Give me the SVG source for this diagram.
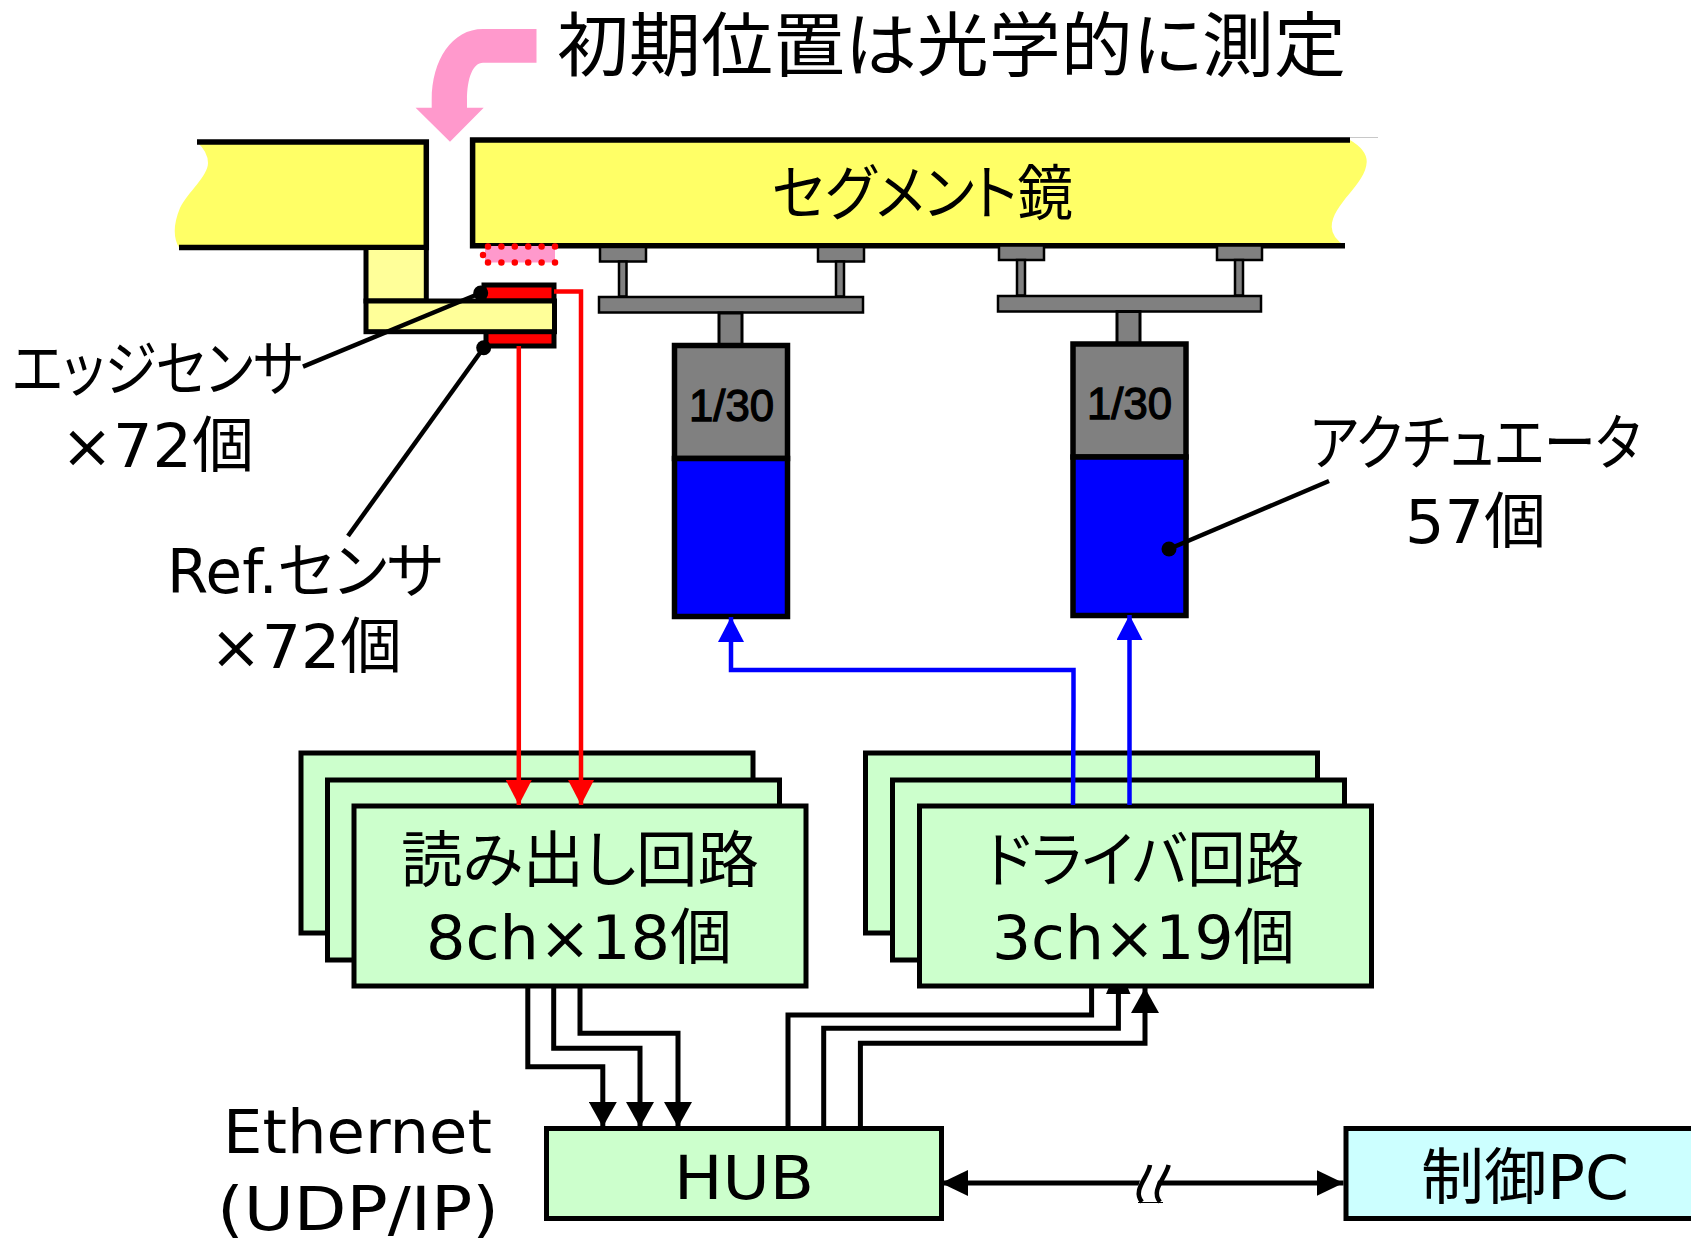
<svg xmlns="http://www.w3.org/2000/svg" width="1691" height="1241" viewBox="0 0 1691 1241">
<defs>
<style>
text{font-family:"DejaVu Sans","Noto Sans CJK JP",sans-serif;font-size:61px;fill:#000;font-feature-settings:"palt";}
.b{fill:#ccffcc;stroke:#000;stroke-width:5}
.c{fill:#ccffff;stroke:#000;stroke-width:5}
.y{fill:#ffff66;stroke:none}
.ly{fill:#ffff99;stroke:#000;stroke-width:5}
.g{fill:#808080;stroke:#000;stroke-width:2.5}
.g2{fill:#808080;stroke:#000;stroke-width:3}
.gb{fill:#808080;stroke:#000;stroke-width:5.5}
.bl{fill:#0000ff;stroke:#000;stroke-width:5.5}
.k{fill:none;stroke:#000;stroke-width:5}
.r{fill:none;stroke:#ff0000;stroke-width:4.5}
.u{fill:none;stroke:#0000ff;stroke-width:4.5}
.m{font-family:"Liberation Sans",sans-serif;font-size:44px;stroke:#000;stroke-width:1.3}
</style>
<marker id="ak" markerUnits="userSpaceOnUse" markerWidth="26" markerHeight="28" refX="25" refY="14" orient="auto"><path d="M0 0L25 14L0 28Z" fill="#000"/></marker>
<marker id="ar" markerUnits="userSpaceOnUse" markerWidth="26" markerHeight="26" refX="25" refY="13" orient="auto"><path d="M0 0L25 13L0 26Z" fill="#f00"/></marker>
<marker id="au" markerUnits="userSpaceOnUse" markerWidth="26" markerHeight="26" refX="25" refY="13" orient="auto"><path d="M0 0L25 13L0 26Z" fill="#00f"/></marker>
<marker id="ah" markerUnits="userSpaceOnUse" markerWidth="28" markerHeight="26" refX="27" refY="13" orient="auto-start-reverse"><path d="M0 0L27 13L0 26Z" fill="#000"/></marker>
</defs>

<g id="title">
<text x="557" y="71" style="font-size:70px" textLength="789" lengthAdjust="spacingAndGlyphs">初期位置は光学的に測定</text>
<path d="M536.5 29H483C452 29 431.7 60 431.7 100V107.7H415.6L450 141.7L483.7 107.7H467V100C467 78 473 62.7 483 62.7H536.5Z" fill="#ff99cc"/>
</g>

<g id="mirror-left">
<path class="y" d="M197 142H426V247.5H179Q170 232 180 208C188 192 208 176 208 163Q208 152 197 142Z"/>
<path class="k" d="M197 142H426.3V247.5H179" style="stroke-width:5.5"/>
</g>
<g id="mirror-right">
<path class="y" d="M472.6 140H1350Q1367 150 1366.7 162C1366 184 1332 204 1331.7 227Q1332 238 1345 245.7H472.6Z"/>
<path class="k" d="M1350 140H472.6V245.7H1345" style="stroke-width:5.5"/>
<path d="M1350 137.500H1378" stroke="#c8c8c8" stroke-width="1" fill="none"/>
<text x="772" y="215" textLength="301" lengthAdjust="spacingAndGlyphs" style="font-size:60px">セグメント鏡</text>
</g>

<g id="edge-sensor">
<rect class="ly" x="366" y="247.500" width="60.300" height="53.500"/>
<rect x="484" y="285" width="70" height="16" fill="#f00" stroke="#000" stroke-width="5"/>
<rect x="486" y="331" width="68" height="15" fill="#f00" stroke="#000" stroke-width="5"/>
<rect class="ly" x="366" y="301" width="188.500" height="30.700"/>
<rect x="485" y="246" width="70" height="16.500" fill="#ff99cc"/>
<path d="M488 246.500H556M488 262.500H556" fill="none" stroke="#f00" stroke-width="6.500" stroke-linecap="round" stroke-dasharray="0 13.400"/>
<circle cx="483" cy="255" r="3.200" fill="#f00"/>
</g>

<g id="actuator-1">
<rect class="g" x="600" y="247" width="46" height="14.500"/>
<rect class="g" x="818" y="247" width="46" height="14.500"/>
<rect class="g" x="619" y="261.500" width="7.500" height="35"/>
<rect class="g" x="836" y="261.500" width="8" height="35"/>
<rect class="g" x="599" y="297" width="264" height="15.500"/>
<rect class="g2" x="719" y="313" width="23" height="33"/>
<rect class="gb" x="674.500" y="345.500" width="113" height="113"/>
<rect class="bl" x="674.500" y="458.500" width="113" height="158"/>
<text class="m" x="689" y="421" textLength="85" lengthAdjust="spacingAndGlyphs">1/30</text>
</g>
<g id="actuator-2">
<rect class="g" x="999" y="245.500" width="45" height="14.500"/>
<rect class="g" x="1217" y="245.500" width="45" height="14.500"/>
<rect class="g" x="1017" y="260" width="8" height="35.500"/>
<rect class="g" x="1235" y="260" width="8" height="35.500"/>
<rect class="g" x="998" y="296" width="263" height="15.500"/>
<rect class="g2" x="1117" y="311.500" width="23" height="33"/>
<rect class="gb" x="1073" y="344" width="113" height="113"/>
<rect class="bl" x="1073" y="457" width="113" height="158.500"/>
<text class="m" x="1087" y="419" textLength="85" lengthAdjust="spacingAndGlyphs">1/30</text>
</g>

<g id="readout">
<rect class="b" x="301" y="753" width="452" height="180"/>
<rect class="b" x="327.500" y="780" width="452" height="180"/>
<rect class="b" x="354" y="806" width="452" height="180"/>
<text x="401" y="882" textLength="358" lengthAdjust="spacingAndGlyphs">読み出し回路</text>
<text x="426" y="959" textLength="306" lengthAdjust="spacingAndGlyphs">8ch×18個</text>
</g>
<g id="driver">
<rect class="b" x="865.500" y="753" width="452" height="180"/>
<rect class="b" x="892.500" y="780" width="452" height="180"/>
<rect class="b" x="919.500" y="806" width="452" height="180"/>
<text x="985" y="882" textLength="319" lengthAdjust="spacingAndGlyphs">ドライバ回路</text>
<text x="992" y="959" textLength="303" lengthAdjust="spacingAndGlyphs">3ch×19個</text>
</g>
<g id="hub">
<rect class="b" x="546.500" y="1128.500" width="395" height="90"/>
<text x="674" y="1199" textLength="140" lengthAdjust="spacingAndGlyphs">HUB</text>
</g>
<g id="pc">
<rect class="c" x="1346" y="1128.500" width="360" height="90"/>
<text x="1421" y="1199" textLength="208" lengthAdjust="spacingAndGlyphs">制御PC</text>
</g>

<g id="connectors">
<path class="r" d="M518.800 346V805" marker-end="url(#ar)"/>
<path class="r" d="M554 291.500H581V805" marker-end="url(#ar)"/>
<path class="u" d="M1073 805L1073.500 706L1073.500 670H731V617" marker-end="url(#au)"/>
<path class="u" d="M1129.500 805V615" marker-end="url(#au)"/>
<path class="k" d="M527.800 986V1066.700H602.800V1127" marker-end="url(#ak)"/>
<path class="k" d="M553.700 986V1048.300H640V1127" marker-end="url(#ak)"/>
<path class="k" d="M580 986V1033.300H678V1127" marker-end="url(#ak)"/>
<path class="k" d="M788 1128V1015H1091.600V986"/>
<path class="k" d="M823.700 1128V1028.300H1118.400V992"/>
<path d="M1106 994H1130.500L1127.500 987H1109Z" fill="#000"/>
<path class="k" d="M860.400 1128V1043.300H1145V988" marker-end="url(#ak)"/>
<path class="k" d="M941 1183H1343.500" marker-start="url(#ah)" marker-end="url(#ah)"/>
<path d="M1150 1165C1140 1178 1133 1190 1142 1202H1160C1151 1190 1158 1178 1168.600 1165Z" fill="#fff"/>
<path d="M1150 1165C1148 1178 1132 1190 1142 1202M1168.600 1165C1166 1178 1150 1190 1160 1202" fill="none" stroke="#000" stroke-width="4.500"/>
<path d="M1138 1202.500H1163" stroke="#000" stroke-width="1" fill="none"/>
<path class="k" d="M303 366.700L480.700 293" style="stroke-width:4.500"/>
<circle cx="480.700" cy="293" r="7.500"/>
<path class="k" d="M348 536L483.700 347.700" style="stroke-width:4.500"/>
<circle cx="483.700" cy="347.700" r="7.500"/>
<path class="k" d="M1329 481L1169 549" style="stroke-width:4.500"/>
<circle cx="1169" cy="549" r="7.500"/>
</g>

<g id="labels">
<text x="12" y="391" textLength="291" lengthAdjust="spacingAndGlyphs">エッジセンサ</text>
<text x="61" y="467" textLength="193" lengthAdjust="spacingAndGlyphs">×72個</text>
<text x="167" y="593" textLength="276" lengthAdjust="spacingAndGlyphs">Ref.センサ</text>
<text x="210" y="668" textLength="192" lengthAdjust="spacingAndGlyphs">×72個</text>
<text x="1310" y="465" textLength="331" lengthAdjust="spacingAndGlyphs">アクチュエータ</text>
<text x="1405" y="543" textLength="141" lengthAdjust="spacingAndGlyphs">57個</text>
<text x="223" y="1153" textLength="269" lengthAdjust="spacingAndGlyphs">Ethernet</text>
<text x="217" y="1230" textLength="282" lengthAdjust="spacingAndGlyphs">(UDP/IP)</text>
</g>
</svg>
